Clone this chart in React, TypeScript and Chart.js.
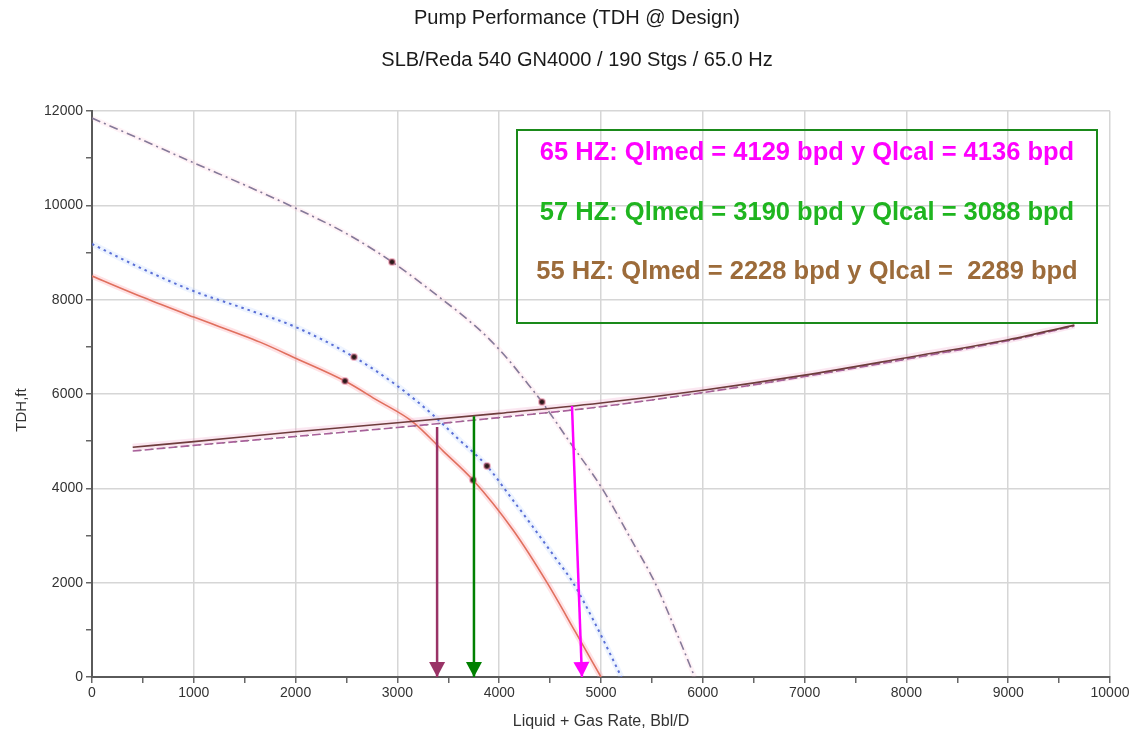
import React, { useEffect, useRef } from 'react';
import { Chart, registerables } from 'chart.js';

Chart.register(...registerables);

// ---- Data ----
const q65 = [0, 500, 1000, 1500, 2000, 2500, 2947, 3450, 3700, 3900, 4100, 4250, 4420, 4700, 5010, 5300, 5530, 5750, 5920];
const h65 = [11850, 11380, 10900, 10430, 9940, 9400, 8800, 7990, 7560, 7170, 6700, 6300, 5830, 4960, 4000, 2900, 2000, 900, 0];

const q57 = [0, 500, 1000, 1500, 2000, 2574, 3000, 3350, 3600, 3880, 4100, 4332, 4550, 4725, 4950, 5200];
const h57 = [9180, 8650, 8180, 7810, 7420, 6784, 6170, 5554, 5044, 4473, 3850, 3180, 2530, 2000, 1100, 0];

const q55 = [0, 500, 1000, 1650, 2000, 2485, 2800, 3153, 3450, 3743, 4136, 4470, 4750, 5000];
const h55 = [8500, 8050, 7630, 7100, 6760, 6275, 5870, 5406, 4790, 4176, 3116, 2000, 950, 0];

const qSys = [400, 1000, 2000, 3000, 4000, 5000, 6000, 7000, 8000, 9000, 9650];
const hSysSolid = [4870, 4990, 5200, 5390, 5590, 5810, 6080, 6400, 6770, 7150, 7460];
const hSysDash = [4790, 4910, 5100, 5290, 5500, 5730, 6030, 6370, 6740, 7130, 7440];

const markerQ = [2947, 4420, 2574, 3880, 2485, 3743];
const markerH = [8800, 5830, 6784, 4473, 6275, 4176];

const arrow55Q = [3390, 3390];
const arrow55H = [5300, 0];
const arrow57Q = [3752, 3752];
const arrow57H = [5530, 0];
const arrow65Q = [4715, 4813];
const arrow65H = [5745, 0];

const xMajorTicks = [0, 1000, 2000, 3000, 4000, 5000, 6000, 7000, 8000, 9000, 10000];
const yMajorTicks = [0, 2000, 4000, 6000, 8000, 10000, 12000];

const titleText = 'Pump Performance (TDH @ Design)';
const subtitleText = 'SLB/Reda 540 GN4000 / 190 Stgs / 65.0 Hz';
const xAxisTitle = 'Liquid + Gas Rate, Bbl/D';
const yAxisTitle = 'TDH,ft';
const noteLines = [
  '65 HZ: Qlmed = 4129 bpd y Qlcal = 4136 bpd',
  '57 HZ: Qlmed = 3190 bpd y Qlcal = 3088 bpd',
  '55 HZ: Qlmed = 2228 bpd y Qlcal =  2289 bpd',
];
const noteColors = ['#ff00ff', '#1fb51f', '#9c6b3a'];

const pts = (xs: number[], ys: number[]) => xs.map((x, i) => ({ x, y: ys[i] }));

const FONT = '"Liberation Sans", Arial, sans-serif';

const arrowPlugin = {
  id: 'arrowHeads',
  afterDatasetsDraw(chart: any) {
    const ctx = chart.ctx;
    chart.data.datasets.forEach((ds: any, i: number) => {
      if (!ds.arrowHead) return;
      const meta = chart.getDatasetMeta(i);
      const n = meta.data.length;
      if (n < 2) return;
      const a = meta.data[n - 2];
      const b = meta.data[n - 1];
      const ang = Math.atan2(b.y - a.y, b.x - a.x);
      const len = 15;
      const hw = 8;
      const bx = b.x - len * Math.cos(ang);
      const by = b.y - len * Math.sin(ang);
      ctx.save();
      ctx.fillStyle = ds.borderColor;
      ctx.beginPath();
      ctx.moveTo(b.x, b.y);
      ctx.lineTo(bx + hw * Math.sin(ang), by - hw * Math.cos(ang));
      ctx.lineTo(bx - hw * Math.sin(ang), by + hw * Math.cos(ang));
      ctx.closePath();
      ctx.fill();
      ctx.restore();
    });
  },
};

const textPlugin = {
  id: 'texts',
  afterDraw(chart: any) {
    const ctx = chart.ctx;
    const area = chart.chartArea;
    ctx.save();
    ctx.fillStyle = '#1a1a1a';
    ctx.textAlign = 'center';
    ctx.textBaseline = 'middle';
    ctx.font = `20px ${FONT}`;
    ctx.fillText(titleText, 577, 18);
    ctx.fillText(subtitleText, 577, 60);

    ctx.fillStyle = '#333';
    ctx.font = `16px ${FONT}`;
    ctx.fillText(xAxisTitle, (area.left + area.right) / 2, 722);
    ctx.save();
    ctx.translate(22, 410);
    ctx.rotate(-Math.PI / 2);
    ctx.font = `15px ${FONT}`;
    ctx.fillText(yAxisTitle, 0, 0);
    ctx.restore();

    // note box
    ctx.strokeStyle = '#1a8a1a';
    ctx.lineWidth = 2;
    ctx.strokeRect(517, 130, 580, 193);
    ctx.font = `bold 25.5px ${FONT}`;
    const ys = [153, 213, 272];
    noteLines.forEach((t, i) => {
      ctx.fillStyle = noteColors[i];
      ctx.fillText(t, 807, ys[i]);
    });
    ctx.restore();
  },
};

export default function App() {
  const ref = useRef<HTMLCanvasElement | null>(null);

  useEffect(() => {
    if (!ref.current) return;
    const halo = (data: any, color: string, w: number) => ({
      data,
      borderColor: color,
      borderWidth: w,
      pointRadius: 0,
      cubicInterpolationMode: 'monotone',
      order: 10,
    });
    const chart = new Chart(ref.current, {
      type: 'line',
      data: {
        datasets: [
          // arrows
          { data: pts(arrow55Q, arrow55H), borderColor: '#993366', borderWidth: 2.5, pointRadius: 0, arrowHead: true, order: 0 } as any,
          { data: pts(arrow57Q, arrow57H), borderColor: '#008000', borderWidth: 2.5, pointRadius: 0, arrowHead: true, order: 0 } as any,
          { data: pts(arrow65Q, arrow65H), borderColor: '#ff00ff', borderWidth: 2.5, pointRadius: 0, arrowHead: true, order: 0 } as any,
          // operating point markers
          {
            type: 'scatter',
            data: pts(markerQ, markerH),
            showLine: false,
            pointRadius: 3,
            pointBackgroundColor: '#2a1a1a',
            pointBorderColor: 'rgba(230,120,150,0.5)',
            pointBorderWidth: 2,
            order: 1,
          } as any,
          // system curves
          { data: pts(qSys, hSysSolid), borderColor: '#6e3c3c', borderWidth: 1.6, pointRadius: 0, cubicInterpolationMode: 'monotone', order: 2 } as any,
          { data: pts(qSys, hSysDash), borderColor: '#a8609a', borderWidth: 1.6, borderDash: [8, 4], pointRadius: 0, cubicInterpolationMode: 'monotone', order: 2 } as any,
          { data: pts(qSys, hSysDash), borderColor: '#7a6a70', borderWidth: 1.2, borderDash: [3, 9], borderDashOffset: 6, pointRadius: 0, cubicInterpolationMode: 'monotone', order: 2 } as any,
          // pump curves
          { data: pts(q65, h65), borderColor: '#857a99', borderWidth: 1.6, borderDash: [9, 4, 2, 4], pointRadius: 0, cubicInterpolationMode: 'monotone', order: 3 } as any,
          { data: pts(q57, h57), borderColor: '#5a6fd6', borderWidth: 2, borderDash: [2.5, 4], pointRadius: 0, cubicInterpolationMode: 'monotone', order: 3 } as any,
          { data: pts(q55, h55), borderColor: '#e0705e', borderWidth: 1.6, pointRadius: 0, cubicInterpolationMode: 'monotone', order: 3 } as any,
          // halos
          halo(pts(q55, h55), 'rgba(255,160,170,0.3)', 6) as any,
          halo(pts(q57, h57), 'rgba(170,200,255,0.2)', 6) as any,
          halo(pts(q65, h65), 'rgba(255,190,210,0.18)', 5) as any,
          halo(pts(qSys, hSysSolid), 'rgba(240,160,200,0.25)', 7) as any,
        ],
      },
      options: {
        responsive: false,
        animation: false,
        devicePixelRatio: 1,
        layout: { padding: { left: 0, top: 111, right: 25, bottom: 0 } },
        plugins: {
          legend: { display: false },
          tooltip: { enabled: false },
          title: { display: false },
        },
        scales: {
          x: {
            type: 'linear',
            min: 0,
            max: 10000,
            afterFit: (s: any) => { s.height = 59; },
            ticks: {
              stepSize: 500,
              autoSkip: false,
              maxRotation: 0,
              padding: 2,
              color: '#333',
              font: { family: FONT, size: 14 },
              callback: (v: any) => (xMajorTicks.includes(Number(v)) ? String(v) : ''),
            },
            grid: {
              color: (c: any) => (c.tick && xMajorTicks.includes(c.tick.value) ? '#d6d6d6' : 'rgba(0,0,0,0)'),
              lineWidth: 1.5,
              tickColor: '#666',
              tickLength: 6,
            },
            border: { color: '#5a5a5a', width: 2 },
          },
          y: {
            type: 'linear',
            min: 0,
            max: 12000,
            afterFit: (s: any) => { s.width = 92; },
            ticks: {
              stepSize: 1000,
              autoSkip: false,
              padding: 3,
              color: '#333',
              font: { family: FONT, size: 14 },
              callback: (v: any) => (yMajorTicks.includes(Number(v)) ? String(v) : ''),
            },
            grid: {
              color: (c: any) => (c.tick && yMajorTicks.includes(c.tick.value) ? '#d6d6d6' : 'rgba(0,0,0,0)'),
              lineWidth: 1.5,
              tickColor: '#666',
              tickLength: 6,
            },
            border: { color: '#5a5a5a', width: 2 },
          },
        },
      } as any,
      plugins: [arrowPlugin, textPlugin],
    });
    return () => chart.destroy();
  }, []);

  return (
    <div style={{ position: 'absolute', left: 0, top: 0, width: 1135, height: 736, background: '#fff' }}>
      <canvas ref={ref} width={1135} height={736} style={{ display: 'block' }} />
    </div>
  );
}
